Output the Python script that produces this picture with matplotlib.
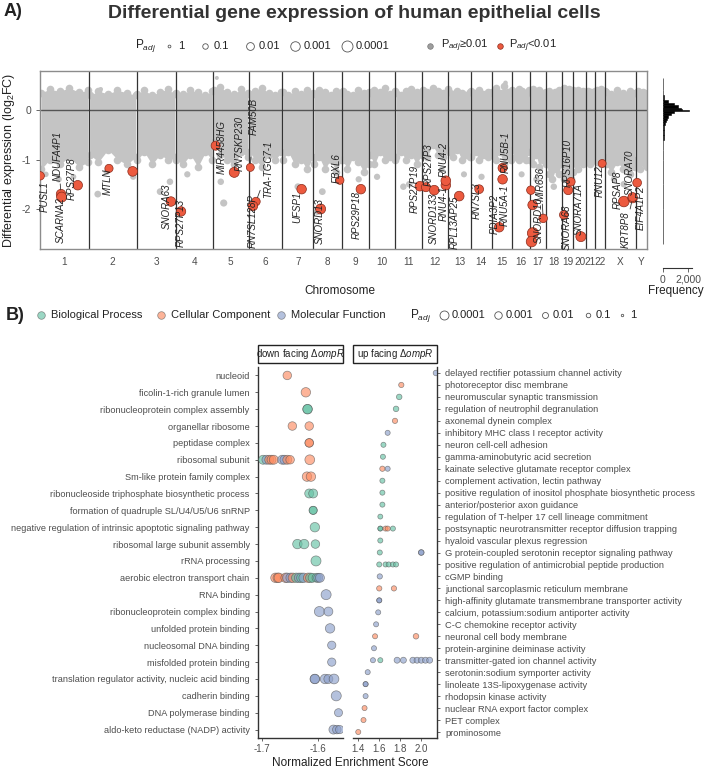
import numpy as np
import matplotlib.pyplot as plt
from matplotlib.patches import Rectangle

plt.rcParams['font.family'] = ['Liberation Sans', 'DejaVu Sans']
plt.rcParams['mathtext.fontset'] = 'custom'
plt.rcParams['mathtext.rm'] = 'Liberation Sans'
plt.rcParams['mathtext.it'] = 'Liberation Sans:italic'

TXT = '#4d4d4d'
GREY = '#c4c4c4'
RED = '#ec5a3f'

#---------------- panel A data ----------------
chroms = ['1', '2', '3', '4', '5', '6', '7', '8', '9', '10', '11', '12', '13', '14',
          '15', '16', '17', '18', '19', '20', '21', '22', 'X', 'Y']
chrom_len = [248.96, 242.19, 198.30, 190.21, 181.54, 170.81, 159.35, 145.14, 138.39,
             133.80, 135.09, 133.28, 114.36, 107.04, 101.99, 90.34, 83.26, 80.37,
             58.62, 64.44, 46.71, 50.82, 156.04, 57.23]

#dense cloud of non significant genes: edges at a few spots along each chromosome
knot_frac = [0.02, 0.2, 0.4, 0.6, 0.8, 0.98]
cloud_top = [[0.35, 0.42, 0.38, 0.45, 0.36, 0.40], [0.30, 0.38, 0.33, 0.40, 0.35, 0.30],
             [0.33, 0.40, 0.30, 0.37, 0.42, 0.32], [0.35, 0.32, 0.40, 0.36, 0.30, 0.38],
             [0.40, 0.47, 0.36, 0.33, 0.42, 0.35], [0.32, 0.38, 0.45, 0.34, 0.30, 0.36],
             [0.36, 0.30, 0.38, 0.33, 0.40, 0.35], [0.33, 0.40, 0.36, 0.30, 0.38, 0.34],
             [0.38, 0.33, 0.30, 0.40, 0.35, 0.37], [0.35, 0.40, 0.36, 0.45, 0.33, 0.38],
             [0.34, 0.30, 0.38, 0.42, 0.36, 0.33], [0.40, 0.36, 0.45, 0.38, 0.34, 0.42],
             [0.36, 0.32, 0.38, 0.35, 0.30, 0.37], [0.38, 0.34, 0.40, 0.33, 0.36, 0.35],
             [0.37, 0.44, 0.35, 0.48, 0.36, 0.34], [0.40, 0.36, 0.42, 0.38, 0.33, 0.40],
             [0.38, 0.42, 0.36, 0.40, 0.35, 0.37], [0.34, 0.38, 0.33, 0.36, 0.40, 0.35],
             [0.40, 0.45, 0.38, 0.42, 0.36, 0.40], [0.36, 0.34, 0.40, 0.35, 0.38, 0.33],
             [0.35, 0.38, 0.33, 0.36, 0.34, 0.37], [0.38, 0.40, 0.36, 0.42, 0.35, 0.38],
             [0.36, 0.33, 0.40, 0.35, 0.38, 0.34], [0.35, 0.38, 0.34, 0.36, 0.33, 0.35]]
cloud_bottom = [[-1.20, -1.00, -1.10, -0.95, -1.15, -1.05], [-0.90, -1.05, -0.80, -1.00, -1.10, -0.95],
                [-1.00, -0.85, -1.10, -0.90, -1.00, -0.95], [-1.00, -1.10, -0.90, -1.15, -0.85, -1.00],
                [-0.65, -0.90, -1.00, -1.10, -0.85, -0.95], [-0.85, -1.00, -1.15, -0.90, -1.00, -0.85],
                [-1.00, -0.85, -1.10, -1.00, -1.20, -0.95], [-1.10, -0.95, -1.20, -1.00, -1.25, -1.00],
                [-1.00, -1.20, -0.95, -1.05, -1.25, -1.10], [-0.90, -1.10, -0.85, -1.00, -0.95, -1.00],
                [-0.95, -0.85, -1.00, -0.90, -1.10, -0.90], [-0.80, -0.95, -0.70, -0.90, -0.95, -0.80],
                [-0.85, -0.95, -0.80, -1.00, -0.90, -0.95], [-0.95, -0.85, -1.00, -0.90, -0.95, -0.85],
                [-0.90, -1.00, -0.85, -1.10, -0.95, -1.00], [-0.80, -0.95, -1.00, -0.90, -1.00, -0.85],
                [-1.00, -1.10, -0.90, -1.15, -1.00, -1.05], [-1.10, -1.30, -1.40, -1.20, -1.30, -1.10],
                [-1.30, -1.40, -1.20, -1.30, -1.40, -1.25], [-1.00, -1.10, -1.20, -1.00, -1.10, -1.00],
                [-0.90, -1.00, -1.10, -1.00, -0.90, -1.00], [-0.95, -1.05, -0.95, -1.10, -1.00, -0.95],
                [-1.10, -1.25, -1.05, -1.20, -1.30, -1.15], [-1.00, -1.10, -1.20, -1.05, -1.10, -1.15]]

#scattered non significant genes
grey_chrom = ['1', '1', '1', '2', '2', '2', '2', '3', '3', '4', '5', '5', '5', '7', '8', '8',
              '9', '10', '11', '11', '13', '14', '15', '17', '18', 'X', 'X', '16', '12']
grey_pos = [95, 170, 30, 45, 90, 225, 60, 120, 170, 60, 40, 55, 20, 80, 45, 20,
            85, 40, 40, 70, 80, 55, 70, 35, 40, 45, 95, 50, 100]
grey_fc = [-1.40, -1.35, -1.30, -1.70, -1.25, -1.35, 0.42, -1.65, -1.45, -1.30, -1.45, -1.88, 0.65,
           -1.55, -1.65, -2.05, -1.40, -1.35, -1.55, -1.50, -1.30, -1.35, 0.55, -1.40, -1.55,
           -1.40, -1.50, -1.30, -1.20]
grey_padj = [0.05, 0.08, 0.1, 0.03, 0.05, 0.06, 0.2, 0.03, 0.04, 0.05, 0.04, 0.02, 0.3,
             0.03, 0.03, 0.02, 0.05, 0.05, 0.04, 0.04, 0.06, 0.05, 0.2, 0.05, 0.04,
             0.05, 0.04, 0.06, 0.08]

#significant genes (padj < 0.01)
sig_gene = ['PUSL1', 'NDUFA4P1', 'SCARNA2', 'RPS27P8', 'MTLN', '', 'SNORA63', 'RPS27P13',
            'MIR4458HG', 'RN7SKP230', 'FAM50B', 'TRA-TGC7-1', 'RN7SL128P', 'UFSP1', 'SNORD13',
            'FBXL6', 'RPS29P18', 'RPS27P19', 'RPS27P3', 'SNORD133', 'RNU4-1', 'RNU4-2',
            'RPL13AP25', 'RN7SL3', 'PDIA3P2', 'RNU5A-1', 'RNU5B-1', 'SNORD10', 'MIR636',
            '', '', '', 'SNORA68', 'RPS16P10', '', 'SNORA71A', 'RNU12', 'RPSAP8', 'KRT8P8',
            'SNORA70', 'EIF4A1P2']
sig_chrom = ['1', '1', '1', '1', '2', '2', '3', '4', '5', '5', '6', '6', '6', '7', '8', '8', '9',
             '11', '12', '12', '12', '12', '13', '14', '15', '15', '15', '17', '17', '17', '17',
             '17', '19', '19', '19', '20', '22', 'X', 'X', 'X', 'Y']
sig_pos = [1.2, 107, 110, 192, 102, 222.5, 175, 27.8, 14, 108.6, 8.8, 37.5, 22, 99, 36.4,
           134.6, 96, 124, 19.6, 61.8, 121, 121, 55.7, 43, 37.7, 55, 55, 16.8, 69.2,
           6.7, 15.5, 10, 10.9, 46.6, 32.9, 38.8, 36, 95.5, 139.7, 139.7, 7]
sig_fc = [-1.33, -1.70, -1.76, -1.52, -1.18, -1.24, -1.85, -2.05, -0.72, -1.26, -1.16, -1.85,
          -1.94, -1.60, -2.00, -1.42, -1.60, -1.54, -1.56, -1.62, -1.52, -1.43, -1.74, -1.60,
          -2.37, -1.40, -1.17, -2.49, -2.19, -1.62, -1.92, -2.66, -2.12, -1.45, -1.62, -2.56,
          -1.08, -1.85, -1.78, -1.76, -1.47]
sig_padj = [0.005, 0.001, 0.0005, 0.001, 0.006, 0.0008, 0.001, 0.001, 0.002, 0.0005, 0.008,
            0.004, 0.001, 0.001, 0.0005, 0.007, 0.001, 0.001, 0.002, 0.0008, 0.001, 0.0008,
            0.0008, 0.003, 0.001, 0.001, 0.002, 0.0001, 0.004, 0.004, 0.001, 0.0002, 0.003,
            0.004, 0.002, 0.0005, 0.008, 0.0002, 0.001, 0.002, 0.003]
#label offsets in pixels (right, down)
lab_dx = [4, -3, -1, -6, -1, 0, -4, 0, 6, 5, 3, 12, 0, -4, -1, -3, -4, -5, 3, 0, -2, -2,
          -4, -2, -4, 2, 3, 6, -2, 0, 0, 0, 3, -3, 0, -2, -2, -6, -7, -3, 4]
lab_dy = [21, -38, 23, -7, 13, 0, 5, 12, 1, -29, -51, -32, 15, 18, 12, -12, 26, 3, -23, 28,
          18, -21, 26, 12, -13, 26, -16, -13, -34, 0, 0, 0, 12, -19, 0, -28, 18, -12, 32,
          -25, 25]

#histogram of all log2FC
hist_edges = [-2.7, -2.0, -1.5, -1.0, -0.8, -0.6, -0.5, -0.4, -0.3, -0.25, -0.2, -0.15, -0.1,
              -0.05, -0.025, 0.0, 0.025, 0.05, 0.1, 0.15, 0.2, 0.3, 0.4, 0.65]
hist_count = [6, 8, 12, 15, 25, 40, 70, 110, 160, 220, 300, 420, 600, 900, 2100, 1500,
              1400, 1200, 900, 400, 80, 10, 5]

#---------------- panel B data ----------------
down_terms = ['nucleoid', 'ficolin-1-rich granule lumen', 'ribonucleoprotein complex assembly',
              'organellar ribosome', 'peptidase complex', 'ribosomal subunit',
              'Sm-like protein family complex', 'ribonucleoside triphosphate biosynthetic process',
              'formation of quadruple SL/U4/U5/U6 snRNP',
              'negative regulation of intrinsic apoptotic signaling pathway',
              'ribosomal large subunit assembly', 'rRNA processing',
              'aerobic electron transport chain', 'RNA binding', 'ribonucleoprotein complex binding',
              'unfolded protein binding', 'nucleosomal DNA binding', 'misfolded protein binding',
              'translation regulator activity, nucleic acid binding', 'cadherin binding',
              'DNA polymerase binding', 'aldo-keto reductase (NADP) activity']
down_row = [0, 1, 2, 2, 3, 3, 4, 4,
            5, 5, 5, 5, 5, 5, 5, 5, 5, 5,
            6, 6, 7, 7, 8, 8, 9, 10, 10, 10, 11,
            12, 12, 12, 12, 12, 12, 12, 12, 12, 12, 12, 12, 12, 12, 12, 12, 12,
            13, 14, 14, 15, 16, 17, 18, 18, 18, 18, 18, 19, 20, 21, 21, 21]
down_nes = [-1.655, -1.622, -1.619, -1.619, -1.646, -1.616, -1.616, -1.616,
            -1.698, -1.692, -1.687, -1.683, -1.679, -1.664, -1.660, -1.655, -1.650, -1.615,
            -1.620, -1.613, -1.616, -1.609, -1.609, -1.609, -1.606, -1.637, -1.625, -1.605, -1.604,
            -1.676, -1.672, -1.670, -1.658, -1.655, -1.649, -1.645, -1.639, -1.634, -1.630,
            -1.626, -1.618, -1.614, -1.610, -1.603, -1.600, -1.597,
            -1.586, -1.598, -1.582, -1.579, -1.576, -1.576, -1.606, -1.606, -1.588, -1.582,
            -1.572, -1.568, -1.564, -1.573, -1.567, -1.562]
down_cat = ['CC', 'CC', 'BP', 'BP', 'CC', 'CC', 'CC', 'CC',
            'BP', 'MF', 'CC', 'CC', 'CC', 'MF', 'MF', 'CC', 'CC', 'CC',
            'CC', 'CC', 'BP', 'BP', 'BP', 'BP', 'BP', 'BP', 'BP', 'BP', 'BP',
            'CC', 'CC', 'CC', 'CC', 'MF', 'MF', 'CC', 'BP', 'MF', 'BP', 'MF', 'CC', 'BP', 'BP',
            'BP', 'MF', 'MF',
            'MF', 'MF', 'MF', 'MF', 'MF', 'MF', 'MF', 'MF', 'MF', 'MF', 'MF', 'MF', 'MF', 'MF',
            'MF', 'MF']
down_padj = [2e-4, 5e-5, 5e-5, 5e-5, 2e-4, 2e-4, 2e-4, 2e-4,
             1e-4, 1e-4, 1e-4, 1e-4, 1e-4, 1e-4, 1e-4, 1e-4, 2e-4, 3e-5,
             5e-5, 5e-5, 1e-4, 1e-4, 4e-4, 4e-4, 5e-5, 5e-5, 5e-5, 2e-4, 2e-5,
             5e-5, 5e-5, 5e-5, 5e-5, 5e-5, 5e-5, 5e-5, 5e-5, 5e-5, 5e-5, 5e-5, 5e-5, 5e-5,
             1e-4, 1e-4, 1e-4, 1e-4,
             2e-5, 2e-5, 1e-4, 5e-5, 3e-4, 3e-4, 5e-5, 5e-5, 5e-5, 1e-4, 3e-5, 2e-5, 4e-4,
             1e-4, 2e-4, 3e-4]

up_terms = ['delayed rectifier potassium channel activity', 'photoreceptor disc membrane',
            'neuromuscular synaptic transmission', 'regulation of neutrophil degranulation',
            'axonemal dynein complex', 'inhibitory MHC class I receptor activity',
            'neuron cell-cell adhesion', 'gamma-aminobutyric acid secretion',
            'kainate selective glutamate receptor complex', 'complement activation, lectin pathway',
            'positive regulation of inositol phosphate biosynthetic process',
            'anterior/posterior axon guidance', 'regulation of T-helper 17 cell lineage commitment',
            'postsynaptic neurotransmitter receptor diffusion trapping',
            'hyaloid vascular plexus regression',
            'G protein-coupled serotonin receptor signaling pathway',
            'positive regulation of antimicrobial peptide production', 'cGMP binding',
            'junctional sarcoplasmic reticulum membrane',
            'high-affinity glutamate transmembrane transporter activity',
            'calcium, potassium:sodium antiporter activity', 'C-C chemokine receptor activity',
            'neuronal cell body membrane', 'protein-arginine deiminase activity',
            'transmitter-gated ion channel activity', 'serotonin:sodium symporter activity',
            'linoleate 13S-lipoxygenase activity', 'rhodopsin kinase activity',
            'nuclear RNA export factor complex', 'PET complex', 'prominosome']
up_row = [0, 1, 2, 3, 4, 5, 6, 7, 8, 8, 9, 10, 11, 12, 13, 13, 13, 13, 13, 14, 15, 15, 15,
          16, 16, 16, 16, 16, 17, 18, 18, 19, 19, 20, 21, 22, 22, 23,
          24, 24, 24, 24, 24, 24, 24, 24, 24, 25, 26, 26, 27, 28, 29, 30]
up_nes = [2.14, 1.81, 1.79, 1.76, 1.75, 1.68, 1.64, 1.635, 1.63, 1.68, 1.63, 1.63, 1.63, 1.61,
          1.61, 1.61, 1.66, 1.68, 1.73, 1.61, 1.605, 2.00, 2.00,
          1.60, 1.66, 1.69, 1.73, 1.76, 1.605, 1.60, 1.74, 1.60, 1.60, 1.59, 1.57, 1.56, 1.95, 1.55,
          1.54, 1.61, 1.77, 1.83, 1.92, 1.96, 2.00, 2.04, 2.08, 1.49, 1.47, 1.47, 1.47, 1.46,
          1.45, 1.40]
up_cat = ['MF', 'CC', 'BP', 'BP', 'CC', 'MF', 'BP', 'BP', 'CC', 'MF', 'BP', 'BP', 'BP', 'BP',
          'BP', 'BP', 'CC', 'CC', 'BP', 'BP', 'BP', 'MF', 'MF',
          'BP', 'BP', 'BP', 'BP', 'BP', 'MF', 'CC', 'CC', 'MF', 'MF', 'MF', 'MF', 'CC', 'CC', 'MF',
          'MF', 'BP', 'MF', 'MF', 'MF', 'MF', 'MF', 'MF', 'MF', 'MF', 'MF', 'MF', 'MF', 'CC',
          'CC', 'CC']
up_padj = [0.02, 0.03, 0.02, 0.02, 0.03, 0.04, 0.04, 0.04, 0.03, 0.04, 0.04, 0.04, 0.04, 0.05,
           0.05, 0.05, 0.04, 0.04, 0.04, 0.04, 0.04, 0.02, 0.02,
           0.04, 0.04, 0.04, 0.04, 0.04, 0.03, 0.03, 0.03, 0.04, 0.04, 0.04, 0.04, 0.04, 0.02, 0.04,
           0.04, 0.04, 0.01, 0.01, 0.01, 0.01, 0.01, 0.01, 0.01, 0.04, 0.04, 0.04, 0.04, 0.04,
           0.04, 0.04]

cat_color = {'BP': '#66c2a5', 'CC': '#fc8d62', 'MF': '#8da0cb'}
cat_name = {'BP': 'Biological Process', 'CC': 'Cellular Component', 'MF': 'Molecular Function'}


def size_a(p):
    d = np.maximum(2.5, 5.5 * np.sqrt(-np.log10(np.asarray(p, float))))
    return (0.72 * d) ** 2


def size_b(p):
    d = np.maximum(2.0, 3.0 + 1.5 * -np.log10(np.asarray(p, float)))
    return (0.72 * d) ** 2


#---------------- figure ----------------
W, H = 706, 769
fig = plt.figure(figsize=(W / 100, H / 100), dpi=100)
ov = fig.add_axes([0, 0, 1, 1])
ov.set_xlim(0, W)
ov.set_ylim(H, 0)
ov.axis('off')


def px_axes(l, t, r, b):
    return fig.add_axes([l / W, 1 - b / H, (r - l) / W, (b - t) / H])


#chromosome offsets along the genome
starts = np.concatenate([[0], np.cumsum(chrom_len)[:-1]])
start_of = dict(zip(chroms, starts))
genome_len = float(np.sum(chrom_len))

ax = px_axes(40, 71, 647, 249)
for i, c in enumerate(chroms):
    xs = starts[i] + np.array(knot_frac) * chrom_len[i]
    ax.fill_between(xs, cloud_bottom[i], cloud_top[i], color=GREY, lw=0, zorder=1)
    ax.scatter(xs, cloud_bottom[i], s=30, color=GREY, lw=0, zorder=1)
    ax.scatter(xs, cloud_top[i], s=30, color=GREY, lw=0, zorder=1)

gx = np.array([start_of[c] for c in grey_chrom]) + np.array(grey_pos)
ax.scatter(gx, grey_fc, s=size_a(grey_padj), color=GREY, lw=0, zorder=1)

ax.axhline(0, color='#555555', lw=1, zorder=2)
for s in starts[1:]:
    ax.axvline(s, color='#333333', lw=0.9, zorder=2)

sx = np.array([start_of[c] for c in sig_chrom]) + np.array(sig_pos)
ax.scatter(sx, sig_fc, s=size_a(sig_padj), color=RED, edgecolor='#8a2a1a', lw=0.5, zorder=4)
for g, x, y, dx, dy in zip(sig_gene, sx, sig_fc, lab_dx, lab_dy):
    if not g:
        continue
    far = abs(dy) > 30 or abs(dx) > 10
    ax.annotate(g, (x, y), xytext=(dx * 0.72, -dy * 0.72), textcoords='offset points',
                rotation=90, ha='center', va='center', fontsize=7, style='italic',
                color='#222222', zorder=5,
                arrowprops=dict(arrowstyle='-', color='#333333', lw=0.6, shrinkA=14, shrinkB=3) if far else None)

ax.set_xlim(0, genome_len)
ax.set_ylim(-2.81, 0.79)
ax.set_yticks([0, -1, -2])
ax.set_yticklabels(['0', '-1', '-2'])
ax.set_xticks(starts + np.array(chrom_len) / 2)
ax.set_xticklabels(chroms)
ax.tick_params(axis='x', length=0, pad=6, labelsize=7.2, colors=TXT)
ax.tick_params(axis='y', length=3, labelsize=7.5, colors=TXT, width=0.6)
ax.set_ylabel('Differential expression (log$_2$FC)', fontsize=9, color='#222222', labelpad=3)
for sp in ax.spines.values():
    sp.set_color('#8c8c8c')
    sp.set_linewidth(1)

#histogram of fold changes
axh = px_axes(663, 71, 692, 268)
axh.barh(hist_edges[:-1], hist_count, height=np.diff(hist_edges), align='edge',
         color='black', edgecolor='black', lw=0.4)
axh.set_ylim(-3.19, 0.79)
axh.set_xlim(0, 2300)
axh.set_xticks([0, 2000])
axh.set_xticklabels(['0', '2,000'])
axh.set_yticks([])
for k in ['top', 'right', 'left']:
    axh.spines[k].set_visible(False)
axh.spines['bottom'].set_color('#333333')
axh.spines['bottom'].set_linewidth(0.8)
axh.tick_params(axis='x', length=3, width=0.6, labelsize=7.5, colors=TXT, pad=2)

#panel A texts and legend
ov.text(4, 12, 'A)', fontsize=13, fontweight='bold', va='center', color='#222222')
ov.text(354, 13, 'Differential gene expression of human epithelial cells', fontsize=14,
        fontweight='bold', ha='center', va='center', color='#333333')
ov.text(340, 291, 'Chromosome', fontsize=8.5, ha='center', va='center', color='#222222')
ov.text(704, 291, 'Frequency', fontsize=8.5, ha='right', va='center', color='#222222')

ly = 46
ov.text(135, ly, 'P$_{adj}$', fontsize=8.5, va='center', color='#222222')
leg_p = [1, 0.1, 0.01, 0.001, 0.0001]
leg_txt = ['1', '0.1', '0.01', '0.001', '0.0001']
leg_x = [169, 205, 250, 295, 347]
for p, t, x in zip(leg_p, leg_txt, leg_x):
    ov.scatter([x], [ly], s=size_a([p]) if p < 1 else 4, facecolor='white',
               edgecolor='#555555', lw=0.6)
    ov.text(x + 9, ly, t, fontsize=8, va='center', color='#222222')
ov.scatter([430], [ly], s=16, color='#9e9e9e', edgecolor='#777777', lw=0.5)
ov.text(441, ly, 'P$_{adj}$≥0.01', fontsize=8, va='center', color='#222222')
ov.scatter([500], [ly], s=16, color=RED, edgecolor='#8a2a1a', lw=0.5)
ov.text(509, ly, 'P$_{adj}$<0.01', fontsize=8, va='center', color='#222222')

#---------------- panel B ----------------
axl = px_axes(258, 367, 343, 738)
axr = px_axes(353, 367, 437, 738)


def enrich(a, terms, rows, nes, cats, padj):
    a.scatter(nes, rows, s=size_b(padj), c=[cat_color[c] for c in cats], alpha=0.65,
              edgecolors='#555555', linewidths=0.5, zorder=3)
    a.set_ylim(len(terms) - 0.5, -0.5)
    a.set_yticks(range(len(terms)))
    a.set_yticklabels(terms)
    a.tick_params(axis='both', length=2.5, width=0.6, colors=TXT, labelcolor=TXT)
    a.tick_params(axis='x', labelsize=7, pad=1.5)
    for sp in a.spines.values():
        sp.set_color('#333333')
        sp.set_linewidth(1)
    a.spines['top'].set_visible(False)


enrich(axl, down_terms, down_row, down_nes, down_cat, down_padj)
axl.set_xlim(-1.707, -1.556)
axl.set_xticks([-1.7, -1.6])
axl.set_xticklabels(['-1.7', '-1.6'])
axl.spines['right'].set_visible(False)
axl.tick_params(axis='y', labelsize=6.6)

enrich(axr, up_terms, up_row, up_nes, up_cat, up_padj)
axr.set_xlim(1.35, 2.15)
axr.set_xticks([1.4, 1.6, 1.8, 2.0])
axr.spines['left'].set_visible(False)
axr.yaxis.tick_right()
axr.tick_params(axis='y', labelsize=6.7)

for a, lab in [(axl, 'down facing $\\Delta\\mathit{ompR}$'), (axr, 'up facing $\\Delta\\mathit{ompR}$')]:
    a.add_patch(Rectangle((0, 1.01), 1, 0.048, transform=a.transAxes, clip_on=False,
                          facecolor='white', edgecolor='#222222', lw=1))
    a.text(0.5, 1.034, lab, transform=a.transAxes, ha='center', va='center', fontsize=7,
           color='#222222')

ov.text(350, 763, 'Normalized Enrichment Score', fontsize=8.5, ha='center', va='center',
        color='#222222')
ov.text(6, 315, 'B)', fontsize=13, fontweight='bold', va='center', color='#222222')

by = 315
for c, x in zip(['BP', 'CC', 'MF'], [41, 161, 281]):
    ov.scatter([x], [by], s=30, color=cat_color[c], alpha=0.65, edgecolor='#555555', lw=0.5)
    ov.text(x + 10, by, cat_name[c], fontsize=8, va='center', color='#222222')
ov.text(410, by, 'P$_{adj}$', fontsize=8.5, va='center', color='#222222')
legb_p = [0.0001, 0.001, 0.01, 0.1, 1]
legb_txt = ['0.0001', '0.001', '0.01', '0.1', '1']
legb_x = [444, 498, 545, 588, 622]
for p, t, x in zip(legb_p, legb_txt, legb_x):
    ov.scatter([x], [by], s=size_b([p]) if p < 1 else 3, facecolor='white',
               edgecolor='#555555', lw=0.6)
    ov.text(x + 8, by, t, fontsize=8, va='center', color='#222222')

fig.savefig('out.png', dpi=100)
